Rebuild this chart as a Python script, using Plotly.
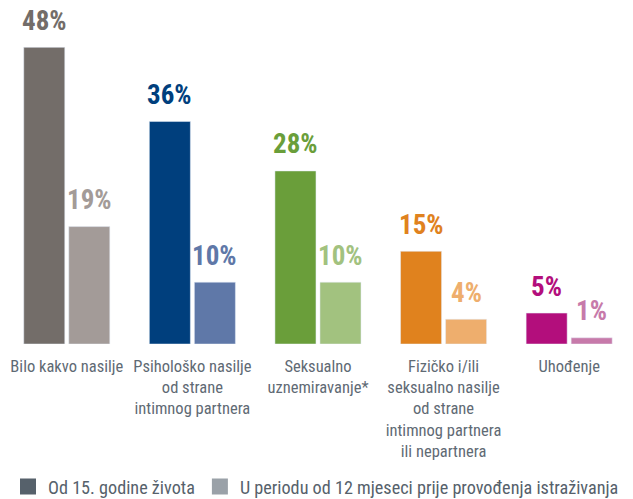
import plotly.graph_objects as go

categories = [
    "Bilo kakvo nasilje",
    "Psihološko nasilje<br>od strane<br>intimnog partnera",
    "Seksualno<br>uznemiravanje*",
    "Fizičko i/ili<br>seksualno nasilje<br>od strane<br>intimnog partnera<br>ili nepartnera",
    "Uhođenje",
]
series_names = ["Od 15. godine života", "U periodu od 12 mjeseci prije provođenja istraživanja"]
since15 = [48, 36, 28, 15, 5]
last12 = [19, 10, 10, 4, 1]
dark_colors = ["#736d69", "#003f7d", "#6a9e3a", "#e0821e", "#b30e7c"]
light_colors = ["#a39b98", "#5f78a8", "#a2c27f", "#eeae6d", "#c77aaa"]
legend_colors = ["#56616b", "#9aa1a8"]

FONT = "Roboto Condensed, Roboto, sans-serif"
TXT = "#5f6a74"

fig = go.Figure()
fig.add_bar(x=categories, y=since15, marker_color=dark_colors, showlegend=False, name=series_names[0])
fig.add_bar(x=categories, y=last12, marker_color=light_colors, showlegend=False, name=series_names[1])

for name, col in zip(series_names, legend_colors):
    fig.add_scatter(x=[None], y=[None], mode="markers", name=name,
                    marker=dict(symbol="square", size=16, color=col))

annotations = []
for cat, v1, v2, c1, c2 in zip(categories, since15, last12, dark_colors, light_colors):
    for v, c, sh in ((v1, c1, -22.5), (v2, c2, 22.5)):
        annotations.append(dict(x=cat, y=v, xref="x", yref="y", text=f"{v}%",
                                showarrow=False, yanchor="bottom", xshift=sh, yshift=12.5,
                                borderpad=0, height=26,
                                font=dict(family=FONT, size=27, color=c, weight="bold")))

fig.update_layout(
    width=633, height=499,
    margin=dict(l=0, r=0, t=27, b=163, autoexpand=False),
    paper_bgcolor="white", plot_bgcolor="white",
    barmode="group", bargap=0.283, bargroupgap=0.089,
    font=dict(family=FONT, size=16.5, color=TXT),
    annotations=annotations,
    showlegend=True,
    legend=dict(orientation="h", x=0, xanchor="left", y=-0.402, yanchor="top",
                font=dict(family=FONT, size=18.2, color="#56616b"), itemclick=False),
    xaxis=dict(showgrid=False, showline=False, zeroline=False, ticks="", tickangle=0,
               automargin=False, ticklabelstandoff=10, range=[-0.468, 4.572],
               tickfont=dict(family=FONT, size=16.5, color=TXT)),
    yaxis=dict(range=[0, 50], visible=False, showgrid=False, zeroline=False, automargin=False),
)

fig.write_html("out.html")
